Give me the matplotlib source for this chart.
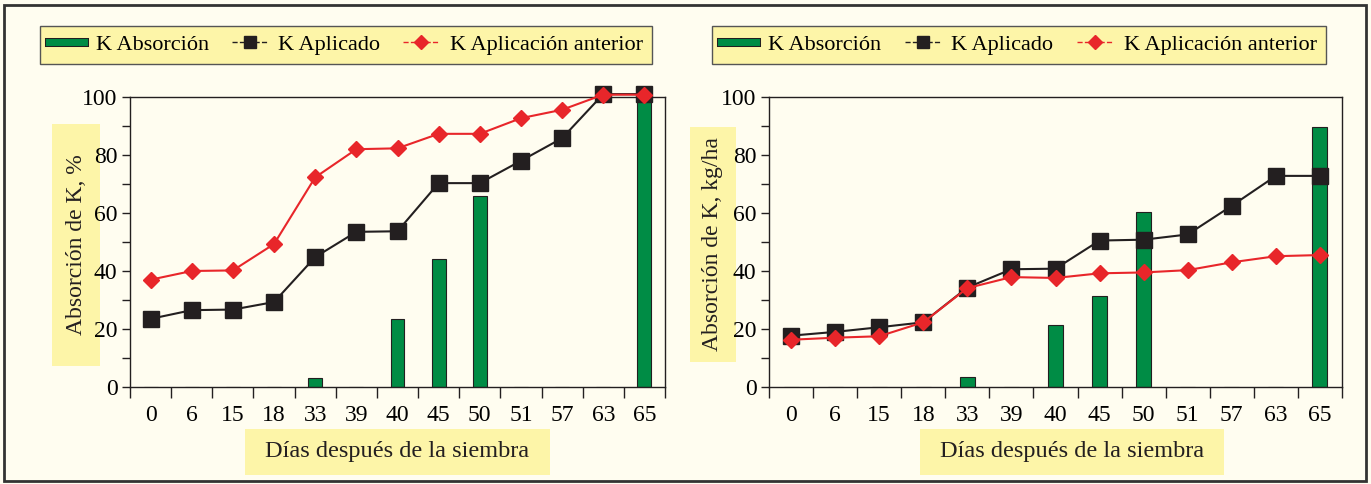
import matplotlib.pyplot as plt
from matplotlib.patches import Rectangle
from matplotlib.lines import Line2D
import matplotlib.patheffects as pe
import numpy as np

plt.rcParams['font.family'] = ['Liberation Serif', 'DejaVu Serif']

dias = ['0', '6', '15', '18', '33', '39', '40', '45', '50', '51', '57', '63', '65']

# Absorción de K, %
abs_pct = [0, 0, 0, 0, 3, 0, 23.5, 44, 66, 0, 0, 0, 100]
aplicado_pct = [23.5, 26.5, 26.7, 29.3, 44.8, 53.5, 53.7, 70.3, 70.3, 78, 85.8, 101, 101]
anterior_pct = [37, 40, 40.2, 49.3, 72.3, 82, 82.3, 87.3, 87.3, 92.7, 95.6, 100.8, 100.8]

# Absorción de K, kg/ha
abs_kg = [0, 0, 0, 0, 3.3, 0, 21.3, 31.3, 60.2, 0, 0, 0, 89.5]
aplicado_kg = [17.7, 19, 20.6, 22.3, 34.3, 40.6, 40.8, 50.5, 50.8, 52.6, 62.5, 72.8, 72.8]
anterior_kg = [16.3, 17, 17.5, 22.3, 34.1, 37.9, 37.6, 39.2, 39.5, 40.3, 43, 45.1, 45.5]

BG = '#fffdf0'
YEL = '#fdf5a8'
GREEN = '#008c45'
RED = '#e8262a'
DARK = '#231f20'

W, H = 1371, 484
fig = plt.figure(figsize=(W / 100, H / 100), dpi=100)
fig.patch.set_facecolor(BG)
fig.patches.append(Rectangle((4 / W, 3 / H), (W - 9) / W, (H - 8) / H, transform=fig.transFigure,
                             fill=False, edgecolor='#333333', linewidth=2))


def box(x0, y0, x1, y1):
    # rectangle given in pixel coords from the top-left
    fig.patches.append(Rectangle((x0 / W, 1 - y1 / H), (x1 - x0) / W, (y1 - y0) / H,
                                 transform=fig.transFigure, facecolor=YEL, edgecolor='none', zorder=-2))


def panel(left, right, bars, apl, ant, ylabel, ylbox, xlbox, legbox):
    ax = fig.add_axes([left / W, (H - 387) / H, (right - left) / W, 290 / H])
    ax.set_facecolor(BG)
    x = np.arange(len(dias))
    ax.bar(x, bars, width=0.34, color=GREEN, edgecolor=DARK, linewidth=0.8, zorder=2)
    ax.plot(x, apl, color=DARK, marker='s', markersize=11, linewidth=1.5, zorder=3, clip_on=False)
    ax.plot(x, ant, color=RED, marker='D', markersize=8, linewidth=1.5, zorder=4, clip_on=False)
    ax.set_xlim(-0.5, len(dias) - 0.5)
    ax.set_ylim(0, 100)
    ax.set_xticks(x)
    ax.set_xticklabels(dias, fontsize=17)
    ax.set_xticks(np.arange(-0.5, len(dias)), minor=True)
    ax.tick_params(axis='x', which='major', length=0, pad=13)
    ax.tick_params(axis='x', which='minor', length=8, width=1, color=DARK)
    ax.set_yticks(np.arange(0, 101, 20))
    ax.set_yticks(np.arange(10, 100, 20), minor=True)
    ax.tick_params(axis='y', which='both', length=6, width=1, color=DARK, labelsize=17, pad=3)
    for s in ax.spines.values():
        s.set_color(DARK)
        s.set_linewidth(1)

    box(*ylbox)
    fig.text((ylbox[0] + ylbox[2]) / 2 / W, 1 - (ylbox[1] + ylbox[3]) / 2 / H, ylabel,
             rotation=90, ha='center', va='center', fontsize=17, color=DARK)
    box(*xlbox)
    fig.text((xlbox[0] + xlbox[2]) / 2 / W, 1 - (xlbox[1] + xlbox[3]) / 2 / H,
             'Días después de la siembra', ha='center', va='center', fontsize=17.5, color=DARK)

    handles = [Line2D([], [], color=GREEN, linewidth=5,
                      path_effects=[pe.Stroke(linewidth=6.5, foreground=DARK), pe.Normal()]),
               Line2D([], [], color=DARK, marker='s', markersize=9, linestyle='--', linewidth=1),
               Line2D([], [], color=RED, marker='D', markersize=7, linestyle='--', linewidth=1)]
    labels = ['K Absorción', 'K Aplicado', 'K Aplicación anterior']
    x0, y0, x1, y1 = legbox
    leg = fig.legend(handles, labels, loc='center', ncol=3, mode='expand',
                     bbox_to_anchor=(x0 / W, 1 - y1 / H, (x1 - x0) / W, (y1 - y0) / H),
                     fontsize=16, frameon=True, fancybox=False, handlelength=1.6,
                     handletextpad=0.5, borderaxespad=0, columnspacing=1.5)
    leg.get_frame().set_facecolor(YEL)
    leg.get_frame().set_edgecolor('#555555')
    leg.get_frame().set_linewidth(1)
    leg.get_frame().set_alpha(1)
    return ax


panel(130, 665, abs_pct, aplicado_pct, anterior_pct, 'Absorción de K, %',
      (52, 124, 100, 366), (245, 429, 550, 475), (40, 25, 652, 65))
panel(769, 1342, abs_kg, aplicado_kg, anterior_kg, 'Absorción de K, kg/ha',
      (690, 127, 736, 362), (920, 429, 1224, 475), (712, 25, 1326, 65))

fig.savefig('out.png', dpi=100, facecolor=BG)
